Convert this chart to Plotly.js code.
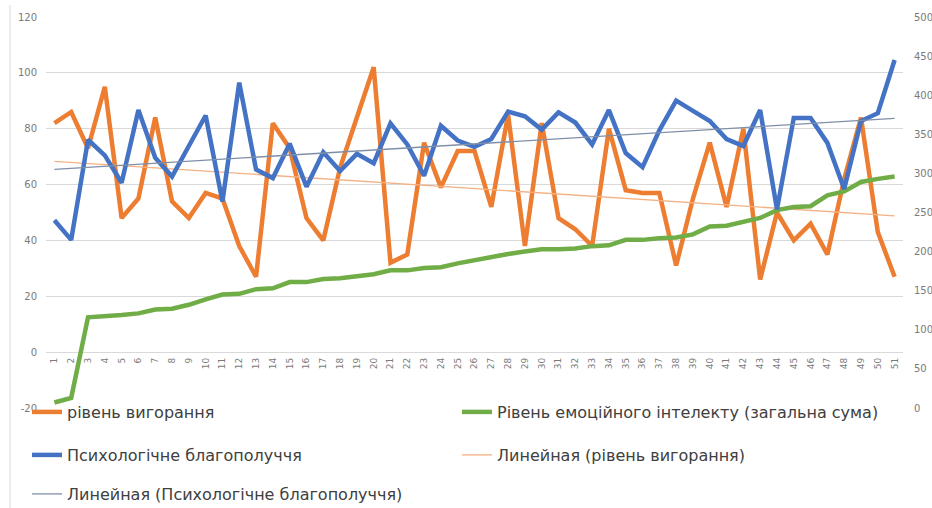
<!DOCTYPE html>
<html>
<head>
<meta charset="utf-8">
<script src="https://cdn.plot.ly/plotly-3.0.1.min.js"></script>
<style>
html,body{margin:0;padding:0;background:#fff;}
#chart{width:932px;height:508px;}
</style>
</head>
<body>
<div id="chart"></div>
<script>
// Categories (respondent numbers)
const categories = ["1","2","3","4","5","6","7","8","9","10","11","12","13","14","15","16","17","18","19","20","21","22","23","24","25","26","27","28","29","30","31","32","33","34","35","36","37","38","39","40","41","42","43","44","45","46","47","48","49","50","51"];

// рівень вигорання (left axis)
const burnout = [82,86,73,95,48,55,84,54,48,57,55,38,27,82,73,48,40,66,84,102,32,35,75,59,72,72,52,85,38,82,48,44,38,80,58,57,57,31,55,75,52,80,26,50,40,46,35,62,84,43,27];

// Рівень емоційного інтелекту (загальна сума) (right axis)
const emotionalIntel = [7,13,116,117,119,121,126,127,132,139,145,146,152,153,161,161,165,166,168,171,176,176,179,180,185,189,194,197,200,203,203,204,207,208,215,215,217,218,222,232,233,238,243,253,257,258,272,277,289,293,296];

// Психологічне благополуччя (right axis)
const wellbeing = [240,215,343,323,288,381,320,296,335,374,264,416,305,294,338,283,327,303,325,313,364,337,297,361,342,334,344,379,373,356,378,365,337,381,326,308,355,393,380,367,344,335,381,254,371,371,339,280,367,377,445];

// Axis tick labels
const leftTicks = [-20,0,20,40,60,80,100,120];
const rightTicks = [0,50,100,150,200,250,300,350,400,450,500];

const names = {
  burnout: "рівень вигорання",
  ei: "Рівень емоційного інтелекту (загальна сума)",
  wb: "Психологічне благополуччя",
  trendB: "Линейная (рівень вигорання)",
  trendW: "Линейная (Психологічне благополуччя)"
};

// Linear trend (least squares over point index), as the spreadsheet does
function linearTrend(vals){
  const n = vals.length;
  let sx=0, sy=0, sxx=0, sxy=0;
  vals.forEach((v,i)=>{const x=i+1; sx+=x; sy+=v; sxx+=x*x; sxy+=x*v;});
  const b = (n*sxy - sx*sy)/(n*sxx - sx*sx);
  const a = (sy - b*sx)/n;
  return vals.map((v,i)=>a + b*(i+1));
}

const trendBurnout = linearTrend(burnout);
const trendWellbeing = linearTrend(wellbeing);

const traces = [
  {x:categories, y:burnout, name:names.burnout, type:"scatter", mode:"lines",
   line:{color:"#ED7D31", width:4.5}, yaxis:"y", legend:"legend"},
  {x:categories, y:emotionalIntel, name:names.ei, type:"scatter", mode:"lines",
   line:{color:"#70AD47", width:4.5}, yaxis:"y2", legend:"legend2"},
  {x:categories, y:wellbeing, name:names.wb, type:"scatter", mode:"lines",
   line:{color:"#4472C4", width:4.5}, yaxis:"y2", legend:"legend3"},
  {x:categories, y:trendBurnout, name:names.trendB, type:"scatter", mode:"lines",
   line:{color:"#F4B183", width:1.3}, yaxis:"y", legend:"legend4"},
  {x:categories, y:trendWellbeing, name:names.trendW, type:"scatter", mode:"lines",
   line:{color:"#7F8FA9", width:1.3}, yaxis:"y2", legend:"legend5"}
];

const tickFont = {family:"DejaVu Sans, sans-serif", size:10, color:"#7a7a7a"};
const legFont = {family:"DejaVu Sans, sans-serif", size:16, color:"#404040"};
const legCommon = {orientation:"v", xanchor:"left", yanchor:"middle",
  font:legFont, bgcolor:"rgba(0,0,0,0)", borderwidth:0,
  itemclick:false, itemdoubleclick:false};

// plot area: x 46..903, y 17..408
const plotH = 391, plotB = 408, plotL = 46, plotW = 857;
const py = v => (plotB - v)/plotH;
const px = v => (v - plotL)/plotW;

const layout = {
  width:932, height:508,
  margin:{l:46, r:29, t:17, b:100, pad:0, autoexpand:false},
  paper_bgcolor:"#ffffff", plot_bgcolor:"#ffffff",
  showlegend:true,
  xaxis:{type:"category", anchor:"free", position:py(352), tickangle:-90,
    tickfont:{family:"DejaVu Sans, sans-serif", size:9, color:"#7a7a7a"},
    showgrid:false, zeroline:false, showline:false, ticks:"", ticklabelstandoff:3,
    range:[-0.5, 50.5], fixedrange:true, automargin:false},
  yaxis:{range:[-20,120], tickvals:leftTicks, ticktext:leftTicks.map(String),
    showgrid:true, gridcolor:"#d9d9d9", gridwidth:1, zeroline:false, showline:false,
    ticks:"", tickfont:tickFont, ticklabelstandoff:8, fixedrange:true, automargin:false},
  yaxis2:{range:[0,500], tickvals:rightTicks, ticktext:rightTicks.map(String),
    overlaying:"y", side:"right", showgrid:false, zeroline:false, showline:false,
    ticks:"", tickfont:tickFont, ticklabelstandoff:10, fixedrange:true, automargin:false},
  legend:  Object.assign({x:px(27),  y:py(412)}, legCommon),
  legend2: Object.assign({x:px(457), y:py(412)}, legCommon),
  legend3: Object.assign({x:px(27),  y:py(455)}, legCommon),
  legend4: Object.assign({x:px(457), y:py(455)}, legCommon),
  legend5: Object.assign({x:px(27),  y:py(494)}, legCommon),
  shapes:[
    {type:"line", xref:"paper", yref:"paper", x0:px(10), x1:px(10), y0:py(508), y1:py(5),
     line:{color:"#d9d9d9", width:1}}
  ]
};

Plotly.newPlot("chart", traces, layout, {staticPlot:true, displayModeBar:false});
</script>
</body>
</html>
